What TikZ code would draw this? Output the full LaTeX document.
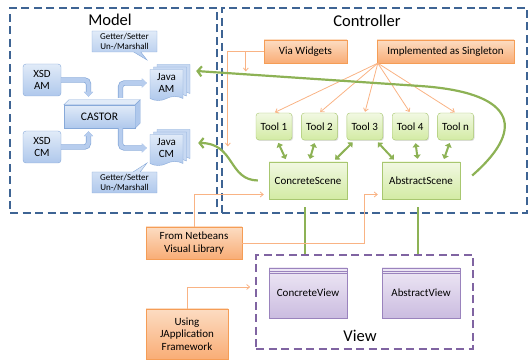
\documentclass[tikz,border=0pt]{standalone}
\usepackage{fontspec}
\setmainfont{Carlito}
\usetikzlibrary{positioning, arrows.meta, shapes.callouts, shapes.symbols, shadows}
\definecolor{ModelBlue}{HTML}{3E6494}
\definecolor{ViewPurple}{HTML}{8064A2}
\definecolor{OrangeLine}{HTML}{F9B384}
\definecolor{OrangeTop}{HTML}{FCDCC2}
\definecolor{OrangeBot}{HTML}{F9AD76}
\definecolor{OrangeEdge}{HTML}{F59D56}
\definecolor{GreenTop}{HTML}{F1F8E2}
\definecolor{GreenBot}{HTML}{D3EBA4}
\definecolor{GreenEdge}{HTML}{A8C770}
\definecolor{GreenLine}{HTML}{8DB255}
\definecolor{BlueTop}{HTML}{E1EBF8}
\definecolor{BlueBot}{HTML}{AFC8EC}
\definecolor{BlueEdge}{HTML}{87A9D9}
\definecolor{PurpleTop}{HTML}{EEE8F5}
\definecolor{PurpleBot}{HTML}{CBBCE0}
\definecolor{PurpleEdge}{HTML}{9A83BD}

\tikzset{
  area/.style={dash pattern=on 8pt off 4.5pt, line width=1.6pt, inner sep=0pt},
  title/.style={font=\fontsize{16.5}{18}\selectfont},
  boxtext/.style={font=\fontsize{11}{12.5}\selectfont, align=center, inner sep=1pt},
  softshadow/.style={drop shadow={shadow xshift=1pt, shadow yshift=-1pt, opacity=0.25}},
  bluebox/.style={boxtext, draw=BlueEdge, top color=BlueTop, bottom color=BlueBot},
  greenbox/.style={boxtext, softshadow, draw=GreenEdge, top color=GreenTop, bottom color=GreenBot},
  orangebox/.style={boxtext, softshadow, draw=OrangeEdge, top color=OrangeTop, bottom color=OrangeBot},
  purplebox/.style={boxtext, softshadow, draw=PurpleEdge, top color=PurpleTop, bottom color=PurpleBot},
  docstack/.style={bluebox, shape=tape, tape bend top=none, tape bend height=4pt,
    double copy shadow={shadow xshift=3.5pt, shadow yshift=2.5pt, draw=BlueEdge, fill=BlueTop!50!BlueBot}},
  note/.style={bluebox, rectangle callout, font=\fontsize{9}{10.5}\selectfont,
    minimum width=65pt, minimum height=21pt},
  blockarrow/.style={BlueBot!85!BlueTop, line width=4pt, rounded corners=4pt,
    -{Triangle[length=5pt,width=9pt]}, preaction={draw=BlueEdge, line width=5.4pt}},
  orarrow/.style={OrangeLine, line width=0.8pt, -{Straight Barb[length=3pt,width=5pt]}},
  toolarrow/.style={GreenLine, line width=2pt, {Triangle[length=4pt,width=7pt]}-{Triangle[length=4pt,width=7pt]},
    shorten <=3pt, shorten >=3pt},
  bigarrow/.style={GreenLine, line width=2.2pt, -{Straight Barb[length=4pt,width=10pt]}},
  greenline/.style={GreenLine, line width=1.6pt}
}

\begin{document}
\begin{tikzpicture}[x=1pt, y=-1pt]
  \useasboundingbox (0,0) rectangle (531,363);

  % Areas
  \node[area, draw=ModelBlue, minimum width=207pt, minimum height=205pt] (model) at (113.5,110.5) {};
  \node[area, draw=ModelBlue, minimum width=305pt, minimum height=205pt] (ctrl) at (374.5,110.5) {};
  \node[area, draw=ViewPurple, minimum width=217pt, minimum height=94pt] (view) at (364.5,302) {};
  \node[title] (modeltitle) at (110,20) {Model};
  \node[title] (ctrltitle) at (367,21) {Controller};
  \node[title] (viewtitle) at (360,336) {View};

  % Model
  \node[bluebox, rounded corners=3pt, minimum width=38pt, minimum height=32pt] (xa) at (42,80) {XSD\\AM};
  \node[bluebox, rounded corners=3pt, minimum width=38pt, minimum height=32pt] (xc) at (42,147) {XSD\\CM};
  \node[bluebox, font=\fontsize{11.5}{13}\selectfont, minimum width=71pt, minimum height=23pt] (castor) at (99.5,116.5) {CASTOR};
  \fill[BlueTop, draw=BlueEdge] (castor.north west) -- ([shift={(5pt,5pt)}]castor.north west)
    -- ([shift={(5pt,5pt)}]castor.north east) -- (castor.north east) -- cycle;
  \fill[BlueBot, draw=BlueEdge] (castor.north east) -- ([shift={(5pt,5pt)}]castor.north east)
    -- ([shift={(5pt,5pt)}]castor.south east) -- (castor.south east) -- cycle;
  \node[docstack, minimum width=33pt, minimum height=31pt] (ja) at (166.5,83) {Java\\AM};
  \node[docstack, minimum width=33pt, minimum height=31pt] (jc) at (166.5,148) {Java\\CM};
  \node[note, callout absolute pointer={(147,60)}] (n1) at (124.5,41.5) {Getter/Setter\\Un-/Marshall};
  \node[note, callout absolute pointer={(147,163)}] (n2) at (124.5,182.5) {Getter/Setter\\Un-/Marshall};

  \draw[blockarrow] (xa.east) -| ([shift={(-11pt,8pt)}]castor.north);
  \draw[blockarrow] (xc.east) -| ([shift={(-11pt,-3pt)}]castor.south);
  \draw[blockarrow] ([shift={(21pt,7pt)}]castor.north) |- ([xshift=-3pt]ja.west);
  \draw[blockarrow] ([xshift=21pt]castor.south) |- ([xshift=-3pt]jc.west);

  % Controller
  \node[orangebox, minimum width=83pt, minimum height=23pt] (vw) at (305.5,51.5) {Via Widgets};
  \node[orangebox, minimum width=137pt, minimum height=23pt] (sing) at (445.5,51.5) {Implemented as Singleton};
  \node[greenbox, rounded corners=3pt, minimum width=36pt, minimum height=27pt] (t1) at (274,126.5) {Tool 1};
  \node[greenbox, rounded corners=3pt, minimum width=36pt, minimum height=27pt, right=9pt of t1] (t2) {Tool 2};
  \node[greenbox, rounded corners=3pt, minimum width=36pt, minimum height=27pt, right=9pt of t2] (t3) {Tool 3};
  \node[greenbox, rounded corners=3pt, minimum width=36pt, minimum height=27pt, right=9pt of t3] (t4) {Tool 4};
  \node[greenbox, rounded corners=3pt, minimum width=36pt, minimum height=27pt, right=9pt of t4] (tn) {Tool n};
  \node[greenbox, minimum width=78pt, minimum height=37pt] (cs) at (308,180.5) {ConcreteScene};
  \node[greenbox, minimum width=78pt, minimum height=37pt] (as) at (421,180.5) {AbstractScene};

  \coordinate (src) at ([xshift=1pt]sing.south west);
  \foreach \t in {t1,t2,t3,t4,tn}
    \draw[orarrow, shorten >=1pt] (src) -- (\t.north);
  \draw[orarrow] (vw.west) -- ++(-36pt,0) -- ++(0,95);
  \draw[orarrow] ([xshift=-18pt]vw.west) -- ++(0,20);

  \draw[toolarrow] ([xshift=3pt]t1.south) -- ([xshift=-21pt]cs.north);
  \draw[toolarrow] ([xshift=-4pt]t2.south) -- ([xshift=1pt]cs.north);
  \draw[toolarrow] ([xshift=-10pt]t3.south) -- ([xshift=25pt]cs.north);
  \draw[toolarrow] ([xshift=11pt]t3.south) -- ([xshift=-25pt]as.north);
  \draw[toolarrow] ([xshift=5pt]t4.south) -- ([xshift=-3pt]as.north);
  \draw[toolarrow] ([xshift=-5pt]tn.south) -- ([xshift=22pt]as.north);

  % Scenes to the model
  \draw[bigarrow] ([shift={(12pt,5pt)}]as.east) .. controls (530,125) and (510,92) .. (420,86)
    -- ([shift={(13pt,12pt)}]ja.east);
  \draw[bigarrow] ([xshift=-11pt]cs.west) .. controls (228,180) and (235,143) .. ([shift={(15pt,5pt)}]jc.east);

  % View
  \node[purplebox, minimum width=78pt, minimum height=50pt] (cv) at (308,293) {ConcreteView};
  \node[purplebox, minimum width=78pt, minimum height=50pt] (av) at (421,293) {AbstractView};
  \foreach \v in {cv,av} {
    \draw[PurpleEdge, line width=0.4pt] ([yshift=-3pt]\v.north west) -- ([yshift=-3pt]\v.north east);
    \draw[PurpleEdge, line width=0.4pt] ([yshift=-5.5pt]\v.north west) -- ([yshift=-5.5pt]\v.north east);
  }
  \draw[greenline] ([shift={(-3pt,-8pt)}]cs.south) -- ([xshift=-3pt]cs.south |- view.north);
  \draw[greenline] ([shift={(-3pt,-8pt)}]as.south) -- ([xshift=-3pt]as.south |- view.north);

  % Libraries
  \node[orangebox, minimum width=96pt, minimum height=32pt] (nb) at (194,243) {From Netbeans\\Visual Library};
  \node[orangebox, minimum width=82pt, minimum height=50pt] (jf) at (187,334) {Using\\JApplication\\Framework};
  \draw[orarrow] (nb.north) |- ([shift={(-5pt,-14pt)}]cs.west);
  \draw[orarrow] (nb.east) -- ++(122,0) |- ([shift={(-4pt,-14pt)}]as.west);
  \draw[orarrow] (jf.north) |- ([shift={(-5pt,15pt)}]view.west);
\end{tikzpicture}
\end{document}
